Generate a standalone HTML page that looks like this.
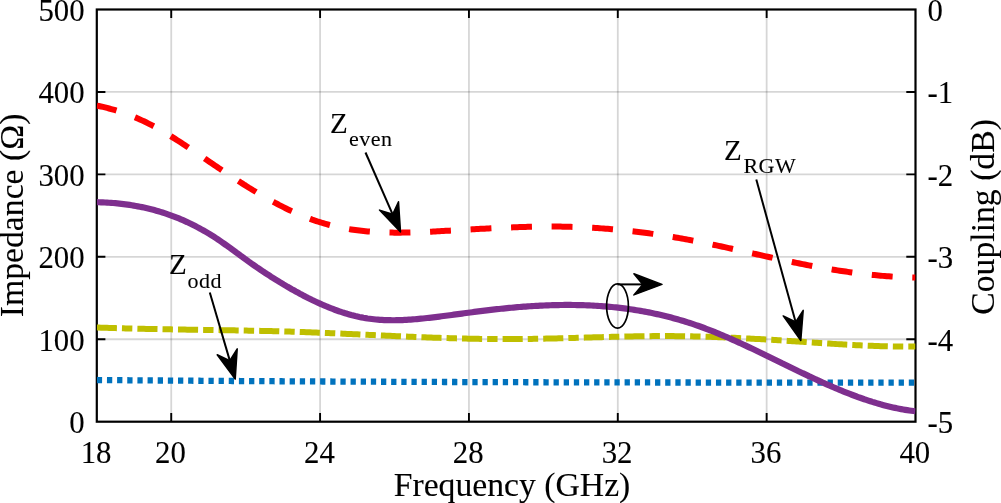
<!DOCTYPE html>
<html lang="en"><head><meta charset="utf-8"><title>Impedance and Coupling vs Frequency</title>
<style>html,body{margin:0;padding:0;background:#fff;}body{width:1001px;height:503px;overflow:hidden;}svg{display:block;}text{font-family:"Liberation Serif",serif;fill:#000;}text{stroke:#000;stroke-width:0.1px;}.tk{font-size:30.8px;}.lb{font-size:33.7px;}.an{font-size:29px;}.sb{font-size:22px;letter-spacing:0.5px;}</style></head><body>
<svg width="1001" height="503" viewBox="0 0 1001 503">
<rect width="1001" height="503" fill="#fff"/>
<path d="M171.23,9.5 V421.7 M320.08,9.5 V421.7 M468.94,9.5 V421.7 M617.79,9.5 V421.7 M766.65,9.5 V421.7" stroke="#000" stroke-opacity="0.16" stroke-width="1.8" fill="none"/>
<path d="M96.8,339.26 H915.5 M96.8,256.82 H915.5 M96.8,174.38 H915.5 M96.8,91.94 H915.5" stroke="#000" stroke-opacity="0.16" stroke-width="1.8" fill="none"/>
<path d="M171.23,421.7 v-8.6 M171.23,9.5 v8.6 M320.08,421.7 v-8.6 M320.08,9.5 v8.6 M468.94,421.7 v-8.6 M468.94,9.5 v8.6 M617.79,421.7 v-8.6 M617.79,9.5 v8.6 M766.65,421.7 v-8.6 M766.65,9.5 v8.6 M96.8,339.26 h8.6 M915.5,339.26 h-9.2 M96.8,256.82 h8.6 M915.5,256.82 h-9.2 M96.8,174.38 h8.6 M915.5,174.38 h-9.2 M96.8,91.94 h8.6 M915.5,91.94 h-9.2" stroke="#000" stroke-width="1.9" fill="none"/>
<rect x="96.8" y="9.5" width="818.70" height="412.20" fill="none" stroke="#000" stroke-width="2.2"/>
<clipPath id="plotclip"><rect x="96.8" y="9.5" width="818.70" height="412.20"/></clipPath><g clip-path="url(#plotclip)">
<path d="M96.8,327.49 L98.9,327.57 L100.9,327.64 L103.0,327.72 L105.0,327.79 L107.1,327.85 L109.1,327.92 L111.2,327.99 L113.2,328.05 L115.3,328.11 L117.3,328.17 L119.4,328.23 L121.4,328.29 L123.5,328.35 L125.5,328.40 L127.6,328.46 L129.6,328.51 L131.7,328.56 L133.7,328.61 L135.8,328.66 L137.8,328.71 L139.9,328.76 L141.9,328.81 L144.0,328.85 L146.0,328.90 L148.1,328.94 L150.1,328.98 L152.2,329.02 L154.3,329.06 L156.3,329.10 L158.4,329.14 L160.4,329.18 L162.5,329.22 L164.5,329.26 L166.6,329.29 L168.6,329.33 L170.7,329.36 L172.7,329.40 L174.8,329.43 L176.8,329.47 L178.9,329.50 L180.9,329.53 L183.0,329.57 L185.0,329.60 L187.1,329.63 L189.1,329.66 L191.2,329.69 L193.2,329.72 L195.3,329.76 L197.3,329.79 L199.4,329.82 L201.4,329.85 L203.5,329.88 L205.5,329.91 L207.6,329.94 L209.7,329.97 L211.7,330.00 L213.8,330.04 L215.8,330.07 L217.9,330.10 L219.9,330.13 L222.0,330.16 L224.0,330.20 L226.1,330.23 L228.1,330.26 L230.2,330.30 L232.2,330.33 L234.3,330.37 L236.3,330.40 L238.4,330.44 L240.4,330.47 L242.5,330.51 L244.5,330.55 L246.6,330.59 L248.6,330.63 L250.7,330.67 L252.7,330.71 L254.8,330.75 L256.8,330.79 L258.9,330.84 L261.0,330.88 L263.0,330.93 L265.1,330.97 L267.1,331.02 L269.2,331.07 L271.2,331.12 L273.3,331.17 L275.3,331.22 L277.4,331.27 L279.4,331.33 L281.5,331.39 L283.5,331.44 L285.6,331.50 L287.6,331.56 L289.7,331.62 L291.7,331.68 L293.8,331.75 L295.8,331.81 L297.9,331.88 L299.9,331.95 L302.0,332.02 L304.0,332.09 L306.1,332.17 L308.1,332.24 L310.2,332.32 L312.2,332.40 L314.3,332.48 L316.4,332.56 L318.4,332.64 L320.5,332.72 L322.5,332.81 L324.6,332.89 L326.6,332.98 L328.7,333.06 L330.7,333.15 L332.8,333.24 L334.8,333.33 L336.9,333.42 L338.9,333.51 L341.0,333.60 L343.0,333.70 L345.1,333.79 L347.1,333.88 L349.2,333.98 L351.2,334.07 L353.3,334.17 L355.3,334.26 L357.4,334.36 L359.4,334.45 L361.5,334.55 L363.5,334.64 L365.6,334.74 L367.6,334.83 L369.7,334.93 L371.8,335.02 L373.8,335.12 L375.9,335.22 L377.9,335.31 L380.0,335.40 L382.0,335.50 L384.1,335.59 L386.1,335.69 L388.2,335.78 L390.2,335.87 L392.3,335.96 L394.3,336.06 L396.4,336.15 L398.4,336.24 L400.5,336.33 L402.5,336.42 L404.6,336.50 L406.6,336.59 L408.7,336.68 L410.7,336.76 L412.8,336.85 L414.8,336.93 L416.9,337.02 L418.9,337.10 L421.0,337.18 L423.0,337.26 L425.1,337.34 L427.2,337.41 L429.2,337.49 L431.3,337.57 L433.3,337.64 L435.4,337.71 L437.4,337.78 L439.5,337.85 L441.5,337.92 L443.6,337.99 L445.6,338.05 L447.7,338.12 L449.7,338.18 L451.8,338.24 L453.8,338.30 L455.9,338.35 L457.9,338.41 L460.0,338.46 L462.0,338.51 L464.1,338.56 L466.1,338.61 L468.2,338.65 L470.2,338.70 L472.3,338.74 L474.3,338.78 L476.4,338.81 L478.4,338.85 L480.5,338.88 L482.6,338.91 L484.6,338.94 L486.7,338.97 L488.7,338.99 L490.8,339.01 L492.8,339.03 L494.9,339.05 L496.9,339.06 L499.0,339.07 L501.0,339.08 L503.1,339.08 L505.1,339.09 L507.2,339.09 L509.2,339.09 L511.3,339.08 L513.3,339.07 L515.4,339.06 L517.4,339.05 L519.5,339.03 L521.5,339.01 L523.6,338.99 L525.6,338.97 L527.7,338.94 L529.7,338.91 L531.8,338.88 L533.9,338.85 L535.9,338.82 L538.0,338.78 L540.0,338.74 L542.1,338.70 L544.1,338.66 L546.2,338.62 L548.2,338.57 L550.3,338.52 L552.3,338.48 L554.4,338.43 L556.4,338.38 L558.5,338.33 L560.5,338.27 L562.6,338.22 L564.6,338.16 L566.7,338.11 L568.7,338.05 L570.8,338.00 L572.8,337.94 L574.9,337.88 L576.9,337.82 L579.0,337.77 L581.0,337.71 L583.1,337.65 L585.1,337.59 L587.2,337.53 L589.3,337.47 L591.3,337.41 L593.4,337.36 L595.4,337.30 L597.5,337.24 L599.5,337.18 L601.6,337.13 L603.6,337.07 L605.7,337.01 L607.7,336.96 L609.8,336.91 L611.8,336.85 L613.9,336.80 L615.9,336.75 L618.0,336.70 L620.0,336.65 L622.1,336.61 L624.1,336.56 L626.2,336.52 L628.2,336.48 L630.3,336.44 L632.3,336.40 L634.4,336.36 L636.4,336.32 L638.5,336.29 L640.5,336.26 L642.6,336.23 L644.7,336.20 L646.7,336.18 L648.8,336.16 L650.8,336.14 L652.9,336.12 L654.9,336.11 L657.0,336.10 L659.0,336.09 L661.1,336.08 L663.1,336.08 L665.2,336.08 L667.2,336.08 L669.3,336.09 L671.3,336.10 L673.4,336.11 L675.4,336.13 L677.5,336.15 L679.5,336.17 L681.6,336.19 L683.6,336.22 L685.7,336.25 L687.7,336.29 L689.8,336.33 L691.8,336.37 L693.9,336.41 L695.9,336.46 L698.0,336.51 L700.1,336.56 L702.1,336.61 L704.2,336.67 L706.2,336.73 L708.3,336.79 L710.3,336.86 L712.4,336.93 L714.4,337.00 L716.5,337.07 L718.5,337.15 L720.6,337.22 L722.6,337.30 L724.7,337.39 L726.7,337.47 L728.8,337.56 L730.8,337.65 L732.9,337.74 L734.9,337.83 L737.0,337.93 L739.0,338.03 L741.1,338.13 L743.1,338.23 L745.2,338.33 L747.2,338.44 L749.3,338.55 L751.3,338.66 L753.4,338.77 L755.5,338.88 L757.5,338.99 L759.6,339.11 L761.6,339.23 L763.7,339.35 L765.7,339.47 L767.8,339.59 L769.8,339.72 L771.9,339.84 L773.9,339.97 L776.0,340.10 L778.0,340.23 L780.1,340.36 L782.1,340.49 L784.2,340.63 L786.2,340.76 L788.3,340.90 L790.3,341.03 L792.4,341.17 L794.4,341.30 L796.5,341.44 L798.5,341.58 L800.6,341.72 L802.6,341.86 L804.7,341.99 L806.8,342.13 L808.8,342.27 L810.9,342.41 L812.9,342.54 L815.0,342.68 L817.0,342.82 L819.1,342.95 L821.1,343.09 L823.2,343.22 L825.2,343.35 L827.3,343.48 L829.3,343.61 L831.4,343.74 L833.4,343.87 L835.5,344.00 L837.5,344.12 L839.6,344.24 L841.6,344.36 L843.7,344.48 L845.7,344.60 L847.8,344.71 L849.8,344.82 L851.9,344.93 L853.9,345.04 L856.0,345.14 L858.0,345.25 L860.1,345.35 L862.2,345.44 L864.2,345.53 L866.3,345.62 L868.3,345.71 L870.4,345.79 L872.4,345.87 L874.5,345.95 L876.5,346.02 L878.6,346.09 L880.6,346.16 L882.7,346.22 L884.7,346.28 L886.8,346.33 L888.8,346.38 L890.9,346.42 L892.9,346.46 L895.0,346.50 L897.0,346.53 L899.1,346.56 L901.1,346.58 L903.2,346.59 L905.2,346.60 L907.3,346.61 L909.3,346.61 L911.4,346.61 L913.4,346.59 L915.5,346.58" stroke="#bfbf00" stroke-width="6" fill="none" stroke-dasharray="20.12 5.03 10.4 5.05"/>
<path d="M96.8,380.02 L98.9,380.03 L100.9,380.05 L103.0,380.07 L105.0,380.08 L107.1,380.10 L109.1,380.12 L111.2,380.13 L113.2,380.15 L115.3,380.16 L117.3,380.18 L119.4,380.20 L121.4,380.21 L123.5,380.23 L125.5,380.24 L127.6,380.26 L129.6,380.28 L131.7,380.29 L133.7,380.31 L135.8,380.32 L137.8,380.34 L139.9,380.35 L141.9,380.37 L144.0,380.38 L146.0,380.40 L148.1,380.42 L150.1,380.43 L152.2,380.45 L154.3,380.46 L156.3,380.48 L158.4,380.49 L160.4,380.50 L162.5,380.52 L164.5,380.53 L166.6,380.55 L168.6,380.56 L170.7,380.58 L172.7,380.59 L174.8,380.61 L176.8,380.62 L178.9,380.64 L180.9,380.65 L183.0,380.66 L185.0,380.68 L187.1,380.69 L189.1,380.71 L191.2,380.72 L193.2,380.73 L195.3,380.75 L197.3,380.76 L199.4,380.77 L201.4,380.79 L203.5,380.80 L205.5,380.81 L207.6,380.83 L209.7,380.84 L211.7,380.85 L213.8,380.87 L215.8,380.88 L217.9,380.89 L219.9,380.91 L222.0,380.92 L224.0,380.93 L226.1,380.94 L228.1,380.96 L230.2,380.97 L232.2,380.98 L234.3,381.00 L236.3,381.01 L238.4,381.02 L240.4,381.03 L242.5,381.04 L244.5,381.06 L246.6,381.07 L248.6,381.08 L250.7,381.09 L252.7,381.11 L254.8,381.12 L256.8,381.13 L258.9,381.14 L261.0,381.15 L263.0,381.16 L265.1,381.18 L267.1,381.19 L269.2,381.20 L271.2,381.21 L273.3,381.22 L275.3,381.23 L277.4,381.24 L279.4,381.26 L281.5,381.27 L283.5,381.28 L285.6,381.29 L287.6,381.30 L289.7,381.31 L291.7,381.32 L293.8,381.33 L295.8,381.34 L297.9,381.35 L299.9,381.37 L302.0,381.38 L304.0,381.39 L306.1,381.40 L308.1,381.41 L310.2,381.42 L312.2,381.43 L314.3,381.44 L316.4,381.45 L318.4,381.46 L320.5,381.47 L322.5,381.48 L324.6,381.49 L326.6,381.50 L328.7,381.51 L330.7,381.52 L332.8,381.53 L334.8,381.54 L336.9,381.55 L338.9,381.56 L341.0,381.57 L343.0,381.58 L345.1,381.59 L347.1,381.60 L349.2,381.61 L351.2,381.61 L353.3,381.62 L355.3,381.63 L357.4,381.64 L359.4,381.65 L361.5,381.66 L363.5,381.67 L365.6,381.68 L367.6,381.69 L369.7,381.70 L371.8,381.70 L373.8,381.71 L375.9,381.72 L377.9,381.73 L380.0,381.74 L382.0,381.75 L384.1,381.76 L386.1,381.76 L388.2,381.77 L390.2,381.78 L392.3,381.79 L394.3,381.80 L396.4,381.81 L398.4,381.81 L400.5,381.82 L402.5,381.83 L404.6,381.84 L406.6,381.85 L408.7,381.85 L410.7,381.86 L412.8,381.87 L414.8,381.88 L416.9,381.89 L418.9,381.89 L421.0,381.90 L423.0,381.91 L425.1,381.92 L427.2,381.92 L429.2,381.93 L431.3,381.94 L433.3,381.95 L435.4,381.95 L437.4,381.96 L439.5,381.97 L441.5,381.97 L443.6,381.98 L445.6,381.99 L447.7,381.99 L449.7,382.00 L451.8,382.01 L453.8,382.02 L455.9,382.02 L457.9,382.03 L460.0,382.04 L462.0,382.04 L464.1,382.05 L466.1,382.06 L468.2,382.06 L470.2,382.07 L472.3,382.07 L474.3,382.08 L476.4,382.09 L478.4,382.09 L480.5,382.10 L482.6,382.11 L484.6,382.11 L486.7,382.12 L488.7,382.12 L490.8,382.13 L492.8,382.14 L494.9,382.14 L496.9,382.15 L499.0,382.15 L501.0,382.16 L503.1,382.17 L505.1,382.17 L507.2,382.18 L509.2,382.18 L511.3,382.19 L513.3,382.19 L515.4,382.20 L517.4,382.20 L519.5,382.21 L521.5,382.22 L523.6,382.22 L525.6,382.23 L527.7,382.23 L529.7,382.24 L531.8,382.24 L533.9,382.25 L535.9,382.25 L538.0,382.26 L540.0,382.26 L542.1,382.27 L544.1,382.27 L546.2,382.28 L548.2,382.28 L550.3,382.29 L552.3,382.29 L554.4,382.30 L556.4,382.30 L558.5,382.30 L560.5,382.31 L562.6,382.31 L564.6,382.32 L566.7,382.32 L568.7,382.33 L570.8,382.33 L572.8,382.34 L574.9,382.34 L576.9,382.34 L579.0,382.35 L581.0,382.35 L583.1,382.36 L585.1,382.36 L587.2,382.36 L589.3,382.37 L591.3,382.37 L593.4,382.38 L595.4,382.38 L597.5,382.38 L599.5,382.39 L601.6,382.39 L603.6,382.40 L605.7,382.40 L607.7,382.40 L609.8,382.41 L611.8,382.41 L613.9,382.41 L615.9,382.42 L618.0,382.42 L620.0,382.42 L622.1,382.43 L624.1,382.43 L626.2,382.43 L628.2,382.44 L630.3,382.44 L632.3,382.44 L634.4,382.45 L636.4,382.45 L638.5,382.45 L640.5,382.46 L642.6,382.46 L644.7,382.46 L646.7,382.47 L648.8,382.47 L650.8,382.47 L652.9,382.47 L654.9,382.48 L657.0,382.48 L659.0,382.48 L661.1,382.49 L663.1,382.49 L665.2,382.49 L667.2,382.49 L669.3,382.50 L671.3,382.50 L673.4,382.50 L675.4,382.50 L677.5,382.51 L679.5,382.51 L681.6,382.51 L683.6,382.51 L685.7,382.52 L687.7,382.52 L689.8,382.52 L691.8,382.52 L693.9,382.53 L695.9,382.53 L698.0,382.53 L700.1,382.53 L702.1,382.53 L704.2,382.54 L706.2,382.54 L708.3,382.54 L710.3,382.54 L712.4,382.54 L714.4,382.55 L716.5,382.55 L718.5,382.55 L720.6,382.55 L722.6,382.55 L724.7,382.55 L726.7,382.56 L728.8,382.56 L730.8,382.56 L732.9,382.56 L734.9,382.56 L737.0,382.56 L739.0,382.57 L741.1,382.57 L743.1,382.57 L745.2,382.57 L747.2,382.57 L749.3,382.57 L751.3,382.57 L753.4,382.58 L755.5,382.58 L757.5,382.58 L759.6,382.58 L761.6,382.58 L763.7,382.58 L765.7,382.58 L767.8,382.58 L769.8,382.59 L771.9,382.59 L773.9,382.59 L776.0,382.59 L778.0,382.59 L780.1,382.59 L782.1,382.59 L784.2,382.59 L786.2,382.59 L788.3,382.59 L790.3,382.60 L792.4,382.60 L794.4,382.60 L796.5,382.60 L798.5,382.60 L800.6,382.60 L802.6,382.60 L804.7,382.60 L806.8,382.60 L808.8,382.60 L810.9,382.60 L812.9,382.60 L815.0,382.60 L817.0,382.60 L819.1,382.60 L821.1,382.60 L823.2,382.61 L825.2,382.61 L827.3,382.61 L829.3,382.61 L831.4,382.61 L833.4,382.61 L835.5,382.61 L837.5,382.61 L839.6,382.61 L841.6,382.61 L843.7,382.61 L845.7,382.61 L847.8,382.61 L849.8,382.61 L851.9,382.61 L853.9,382.61 L856.0,382.61 L858.0,382.61 L860.1,382.61 L862.2,382.61 L864.2,382.61 L866.3,382.61 L868.3,382.61 L870.4,382.61 L872.4,382.61 L874.5,382.61 L876.5,382.61 L878.6,382.61 L880.6,382.61 L882.7,382.61 L884.7,382.61 L886.8,382.61 L888.8,382.61 L890.9,382.61 L892.9,382.61 L895.0,382.61 L897.0,382.61 L899.1,382.61 L901.1,382.60 L903.2,382.60 L905.2,382.60 L907.3,382.60 L909.3,382.60 L911.4,382.60 L913.4,382.60 L915.5,382.60" stroke="#0072bd" stroke-width="6.3" fill="none" stroke-dasharray="5.3 4.85"/>
<path d="M96.8,105.58 L98.9,106.01 L100.9,106.47 L103.0,106.94 L105.0,107.43 L107.1,107.95 L109.1,108.49 L111.2,109.05 L113.2,109.63 L115.3,110.23 L117.3,110.86 L119.4,111.52 L121.4,112.19 L123.5,112.89 L125.5,113.62 L127.6,114.37 L129.6,115.15 L131.7,115.95 L133.7,116.78 L135.8,117.63 L137.8,118.51 L139.9,119.42 L141.9,120.36 L144.0,121.32 L146.0,122.31 L148.1,123.33 L150.1,124.38 L152.2,125.45 L154.3,126.54 L156.3,127.66 L158.4,128.80 L160.4,129.97 L162.5,131.15 L164.5,132.35 L166.6,133.58 L168.6,134.82 L170.7,136.07 L172.7,137.35 L174.8,138.64 L176.8,139.94 L178.9,141.25 L180.9,142.58 L183.0,143.92 L185.0,145.27 L187.1,146.63 L189.1,148.00 L191.2,149.37 L193.2,150.75 L195.3,152.14 L197.3,153.53 L199.4,154.92 L201.4,156.32 L203.5,157.72 L205.5,159.12 L207.6,160.52 L209.7,161.92 L211.7,163.32 L213.8,164.71 L215.8,166.10 L217.9,167.48 L219.9,168.87 L222.0,170.24 L224.0,171.61 L226.1,172.98 L228.1,174.34 L230.2,175.69 L232.2,177.03 L234.3,178.37 L236.3,179.70 L238.4,181.02 L240.4,182.33 L242.5,183.64 L244.5,184.93 L246.6,186.21 L248.6,187.49 L250.7,188.75 L252.7,190.00 L254.8,191.24 L256.8,192.47 L258.9,193.69 L261.0,194.89 L263.0,196.08 L265.1,197.25 L267.1,198.42 L269.2,199.56 L271.2,200.70 L273.3,201.81 L275.3,202.92 L277.4,204.00 L279.4,205.07 L281.5,206.12 L283.5,207.16 L285.6,208.18 L287.6,209.18 L289.7,210.16 L291.7,211.12 L293.8,212.06 L295.8,212.98 L297.9,213.89 L299.9,214.77 L302.0,215.63 L304.0,216.47 L306.1,217.29 L308.1,218.08 L310.2,218.86 L312.2,219.61 L314.3,220.33 L316.4,221.04 L318.4,221.72 L320.5,222.37 L322.5,223.00 L324.6,223.61 L326.6,224.19 L328.7,224.75 L330.7,225.28 L332.8,225.79 L334.8,226.28 L336.9,226.75 L338.9,227.20 L341.0,227.63 L343.0,228.03 L345.1,228.42 L347.1,228.78 L349.2,229.13 L351.2,229.45 L353.3,229.76 L355.3,230.05 L357.4,230.32 L359.4,230.58 L361.5,230.82 L363.5,231.04 L365.6,231.24 L367.6,231.43 L369.7,231.60 L371.8,231.76 L373.8,231.91 L375.9,232.04 L377.9,232.15 L380.0,232.25 L382.0,232.34 L384.1,232.42 L386.1,232.48 L388.2,232.54 L390.2,232.58 L392.3,232.61 L394.3,232.63 L396.4,232.64 L398.4,232.64 L400.5,232.63 L402.5,232.61 L404.6,232.58 L406.6,232.55 L408.7,232.51 L410.7,232.46 L412.8,232.40 L414.8,232.33 L416.9,232.26 L418.9,232.19 L421.0,232.11 L423.0,232.02 L425.1,231.93 L427.2,231.84 L429.2,231.74 L431.3,231.63 L433.3,231.53 L435.4,231.42 L437.4,231.31 L439.5,231.20 L441.5,231.09 L443.6,230.97 L445.6,230.86 L447.7,230.74 L449.7,230.63 L451.8,230.51 L453.8,230.39 L455.9,230.27 L457.9,230.16 L460.0,230.04 L462.0,229.92 L464.1,229.80 L466.1,229.68 L468.2,229.56 L470.2,229.45 L472.3,229.33 L474.3,229.21 L476.4,229.10 L478.4,228.98 L480.5,228.87 L482.6,228.76 L484.6,228.65 L486.7,228.54 L488.7,228.43 L490.8,228.32 L492.8,228.22 L494.9,228.12 L496.9,228.02 L499.0,227.92 L501.0,227.82 L503.1,227.73 L505.1,227.64 L507.2,227.55 L509.2,227.46 L511.3,227.38 L513.3,227.30 L515.4,227.23 L517.4,227.15 L519.5,227.08 L521.5,227.02 L523.6,226.96 L525.6,226.90 L527.7,226.84 L529.7,226.79 L531.8,226.75 L533.9,226.71 L535.9,226.67 L538.0,226.64 L540.0,226.61 L542.1,226.58 L544.1,226.56 L546.2,226.55 L548.2,226.54 L550.3,226.54 L552.3,226.54 L554.4,226.55 L556.4,226.56 L558.5,226.58 L560.5,226.61 L562.6,226.64 L564.6,226.68 L566.7,226.72 L568.7,226.77 L570.8,226.83 L572.8,226.89 L574.9,226.95 L576.9,227.03 L579.0,227.11 L581.0,227.19 L583.1,227.29 L585.1,227.38 L587.2,227.49 L589.3,227.60 L591.3,227.71 L593.4,227.83 L595.4,227.96 L597.5,228.09 L599.5,228.23 L601.6,228.38 L603.6,228.53 L605.7,228.69 L607.7,228.85 L609.8,229.02 L611.8,229.19 L613.9,229.37 L615.9,229.56 L618.0,229.75 L620.0,229.95 L622.1,230.15 L624.1,230.36 L626.2,230.58 L628.2,230.80 L630.3,231.02 L632.3,231.26 L634.4,231.49 L636.4,231.74 L638.5,231.99 L640.5,232.24 L642.6,232.50 L644.7,232.77 L646.7,233.04 L648.8,233.32 L650.8,233.60 L652.9,233.89 L654.9,234.18 L657.0,234.48 L659.0,234.78 L661.1,235.09 L663.1,235.41 L665.2,235.73 L667.2,236.06 L669.3,236.39 L671.3,236.73 L673.4,237.07 L675.4,237.42 L677.5,237.78 L679.5,238.14 L681.6,238.50 L683.6,238.87 L685.7,239.25 L687.7,239.63 L689.8,240.01 L691.8,240.40 L693.9,240.80 L695.9,241.20 L698.0,241.60 L700.1,242.01 L702.1,242.42 L704.2,242.84 L706.2,243.26 L708.3,243.68 L710.3,244.11 L712.4,244.54 L714.4,244.97 L716.5,245.41 L718.5,245.85 L720.6,246.29 L722.6,246.73 L724.7,247.18 L726.7,247.63 L728.8,248.08 L730.8,248.53 L732.9,248.98 L734.9,249.44 L737.0,249.89 L739.0,250.35 L741.1,250.81 L743.1,251.27 L745.2,251.73 L747.2,252.19 L749.3,252.64 L751.3,253.10 L753.4,253.56 L755.5,254.02 L757.5,254.48 L759.6,254.94 L761.6,255.40 L763.7,255.85 L765.7,256.31 L767.8,256.76 L769.8,257.22 L771.9,257.67 L773.9,258.12 L776.0,258.57 L778.0,259.01 L780.1,259.45 L782.1,259.90 L784.2,260.33 L786.2,260.77 L788.3,261.20 L790.3,261.63 L792.4,262.06 L794.4,262.48 L796.5,262.90 L798.5,263.31 L800.6,263.73 L802.6,264.13 L804.7,264.54 L806.8,264.94 L808.8,265.33 L810.9,265.72 L812.9,266.11 L815.0,266.49 L817.0,266.86 L819.1,267.24 L821.1,267.60 L823.2,267.96 L825.2,268.32 L827.3,268.67 L829.3,269.02 L831.4,269.36 L833.4,269.69 L835.5,270.02 L837.5,270.35 L839.6,270.66 L841.6,270.98 L843.7,271.28 L845.7,271.58 L847.8,271.88 L849.8,272.17 L851.9,272.45 L853.9,272.72 L856.0,272.99 L858.0,273.25 L860.1,273.51 L862.2,273.76 L864.2,274.00 L866.3,274.24 L868.3,274.47 L870.4,274.69 L872.4,274.90 L874.5,275.11 L876.5,275.31 L878.6,275.50 L880.6,275.69 L882.7,275.87 L884.7,276.04 L886.8,276.20 L888.8,276.36 L890.9,276.50 L892.9,276.64 L895.0,276.77 L897.0,276.89 L899.1,277.01 L901.1,277.11 L903.2,277.21 L905.2,277.30 L907.3,277.38 L909.3,277.45 L911.4,277.52 L913.4,277.57 L915.5,277.61" stroke="#ff0000" stroke-width="6" fill="none" stroke-dasharray="20.9 19.66" stroke-dashoffset="0.6"/>
<path d="M96.8,202.20 L98.9,202.25 L100.9,202.31 L103.0,202.39 L105.0,202.49 L107.1,202.60 L109.1,202.73 L111.2,202.87 L113.2,203.03 L115.3,203.21 L117.3,203.40 L119.4,203.61 L121.4,203.84 L123.5,204.09 L125.5,204.35 L127.6,204.63 L129.6,204.93 L131.7,205.25 L133.7,205.59 L135.8,205.95 L137.8,206.33 L139.9,206.73 L141.9,207.15 L144.0,207.59 L146.0,208.05 L148.1,208.53 L150.1,209.03 L152.2,209.56 L154.3,210.10 L156.3,210.67 L158.4,211.26 L160.4,211.88 L162.5,212.51 L164.5,213.17 L166.6,213.86 L168.6,214.56 L170.7,215.30 L172.7,216.05 L174.8,216.83 L176.8,217.64 L178.9,218.47 L180.9,219.32 L183.0,220.21 L185.0,221.11 L187.1,222.05 L189.1,223.01 L191.2,223.99 L193.2,225.01 L195.3,226.05 L197.3,227.12 L199.4,228.22 L201.4,229.34 L203.5,230.50 L205.5,231.68 L207.6,232.89 L209.7,234.13 L211.7,235.40 L213.8,236.70 L215.8,238.03 L217.9,239.39 L219.9,240.78 L222.0,242.19 L224.0,243.63 L226.1,245.08 L228.1,246.55 L230.2,248.04 L232.2,249.53 L234.3,251.03 L236.3,252.54 L238.4,254.05 L240.4,255.56 L242.5,257.06 L244.5,258.56 L246.6,260.05 L248.6,261.52 L250.7,262.98 L252.7,264.43 L254.8,265.86 L256.8,267.28 L258.9,268.69 L261.0,270.08 L263.0,271.45 L265.1,272.81 L267.1,274.16 L269.2,275.49 L271.2,276.81 L273.3,278.11 L275.3,279.40 L277.4,280.67 L279.4,281.93 L281.5,283.18 L283.5,284.41 L285.6,285.62 L287.6,286.82 L289.7,288.01 L291.7,289.18 L293.8,290.33 L295.8,291.48 L297.9,292.60 L299.9,293.71 L302.0,294.81 L304.0,295.88 L306.1,296.94 L308.1,297.99 L310.2,299.01 L312.2,300.02 L314.3,301.01 L316.4,301.97 L318.4,302.92 L320.5,303.85 L322.5,304.75 L324.6,305.64 L326.6,306.50 L328.7,307.34 L330.7,308.16 L332.8,308.96 L334.8,309.73 L336.9,310.48 L338.9,311.20 L341.0,311.90 L343.0,312.57 L345.1,313.21 L347.1,313.83 L349.2,314.42 L351.2,314.99 L353.3,315.52 L355.3,316.03 L357.4,316.51 L359.4,316.96 L361.5,317.38 L363.5,317.77 L365.6,318.13 L367.6,318.46 L369.7,318.75 L371.8,319.02 L373.8,319.26 L375.9,319.47 L377.9,319.65 L380.0,319.81 L382.0,319.94 L384.1,320.04 L386.1,320.13 L388.2,320.19 L390.2,320.22 L392.3,320.24 L394.3,320.24 L396.4,320.21 L398.4,320.17 L400.5,320.11 L402.5,320.03 L404.6,319.94 L406.6,319.83 L408.7,319.70 L410.7,319.57 L412.8,319.41 L414.8,319.25 L416.9,319.07 L418.9,318.89 L421.0,318.69 L423.0,318.48 L425.1,318.26 L427.2,318.04 L429.2,317.80 L431.3,317.56 L433.3,317.32 L435.4,317.07 L437.4,316.81 L439.5,316.55 L441.5,316.29 L443.6,316.03 L445.6,315.76 L447.7,315.49 L449.7,315.22 L451.8,314.95 L453.8,314.67 L455.9,314.40 L457.9,314.12 L460.0,313.85 L462.0,313.57 L464.1,313.30 L466.1,313.02 L468.2,312.75 L470.2,312.48 L472.3,312.21 L474.3,311.94 L476.4,311.68 L478.4,311.41 L480.5,311.15 L482.6,310.89 L484.6,310.64 L486.7,310.39 L488.7,310.14 L490.8,309.90 L492.8,309.66 L494.9,309.43 L496.9,309.20 L499.0,308.98 L501.0,308.76 L503.1,308.55 L505.1,308.34 L507.2,308.13 L509.2,307.94 L511.3,307.74 L513.3,307.56 L515.4,307.38 L517.4,307.20 L519.5,307.03 L521.5,306.87 L523.6,306.71 L525.6,306.56 L527.7,306.41 L529.7,306.27 L531.8,306.14 L533.9,306.01 L535.9,305.89 L538.0,305.78 L540.0,305.67 L542.1,305.57 L544.1,305.48 L546.2,305.40 L548.2,305.32 L550.3,305.25 L552.3,305.19 L554.4,305.13 L556.4,305.08 L558.5,305.04 L560.5,305.01 L562.6,304.98 L564.6,304.97 L566.7,304.96 L568.7,304.96 L570.8,304.97 L572.8,304.98 L574.9,305.01 L576.9,305.04 L579.0,305.08 L581.0,305.13 L583.1,305.19 L585.1,305.26 L587.2,305.34 L589.3,305.43 L591.3,305.52 L593.4,305.63 L595.4,305.74 L597.5,305.87 L599.5,306.00 L601.6,306.15 L603.6,306.30 L605.7,306.46 L607.7,306.64 L609.8,306.82 L611.8,307.02 L613.9,307.22 L615.9,307.44 L618.0,307.66 L620.0,307.90 L622.1,308.15 L624.1,308.41 L626.2,308.68 L628.2,308.96 L630.3,309.25 L632.3,309.55 L634.4,309.87 L636.4,310.19 L638.5,310.53 L640.5,310.88 L642.6,311.24 L644.7,311.61 L646.7,312.00 L648.8,312.39 L650.8,312.80 L652.9,313.22 L654.9,313.66 L657.0,314.10 L659.0,314.56 L661.1,315.03 L663.1,315.51 L665.2,316.01 L667.2,316.52 L669.3,317.04 L671.3,317.58 L673.4,318.13 L675.4,318.69 L677.5,319.27 L679.5,319.86 L681.6,320.46 L683.6,321.08 L685.7,321.71 L687.7,322.35 L689.8,323.01 L691.8,323.68 L693.9,324.37 L695.9,325.07 L698.0,325.79 L700.1,326.52 L702.1,327.26 L704.2,328.02 L706.2,328.79 L708.3,329.57 L710.3,330.37 L712.4,331.17 L714.4,331.99 L716.5,332.82 L718.5,333.66 L720.6,334.51 L722.6,335.38 L724.7,336.25 L726.7,337.13 L728.8,338.02 L730.8,338.92 L732.9,339.82 L734.9,340.74 L737.0,341.66 L739.0,342.59 L741.1,343.53 L743.1,344.48 L745.2,345.43 L747.2,346.38 L749.3,347.34 L751.3,348.31 L753.4,349.28 L755.5,350.26 L757.5,351.24 L759.6,352.23 L761.6,353.21 L763.7,354.20 L765.7,355.20 L767.8,356.19 L769.8,357.19 L771.9,358.19 L773.9,359.19 L776.0,360.20 L778.0,361.20 L780.1,362.20 L782.1,363.21 L784.2,364.21 L786.2,365.21 L788.3,366.21 L790.3,367.21 L792.4,368.21 L794.4,369.20 L796.5,370.20 L798.5,371.19 L800.6,372.17 L802.6,373.16 L804.7,374.14 L806.8,375.11 L808.8,376.08 L810.9,377.04 L812.9,378.00 L815.0,378.96 L817.0,379.91 L819.1,380.85 L821.1,381.78 L823.2,382.71 L825.2,383.63 L827.3,384.54 L829.3,385.44 L831.4,386.34 L833.4,387.22 L835.5,388.10 L837.5,388.97 L839.6,389.82 L841.6,390.67 L843.7,391.51 L845.7,392.33 L847.8,393.15 L849.8,393.95 L851.9,394.74 L853.9,395.51 L856.0,396.28 L858.0,397.03 L860.1,397.77 L862.2,398.49 L864.2,399.20 L866.3,399.89 L868.3,400.57 L870.4,401.24 L872.4,401.89 L874.5,402.52 L876.5,403.13 L878.6,403.73 L880.6,404.32 L882.7,404.88 L884.7,405.43 L886.8,405.96 L888.8,406.47 L890.9,406.96 L892.9,407.43 L895.0,407.88 L897.0,408.32 L899.1,408.73 L901.1,409.12 L903.2,409.49 L905.2,409.84 L907.3,410.17 L909.3,410.47 L911.4,410.76 L913.4,411.02 L915.5,411.26" stroke="#7e2f8e" stroke-width="6.2" fill="none"/>
</g>
<text class="tk" x="96.1" y="463.0" text-anchor="middle">18</text>
<text class="tk" x="170.5" y="463.0" text-anchor="middle">20</text>
<text class="tk" x="319.4" y="463.0" text-anchor="middle">24</text>
<text class="tk" x="468.2" y="463.0" text-anchor="middle">28</text>
<text class="tk" x="617.1" y="463.0" text-anchor="middle">32</text>
<text class="tk" x="765.9" y="463.0" text-anchor="middle">36</text>
<text class="tk" x="914.8" y="463.0" text-anchor="middle">40</text>
<text class="tk" x="84.6" y="433.1" text-anchor="end">0</text>
<text class="tk" x="84.6" y="350.7" text-anchor="end">100</text>
<text class="tk" x="84.6" y="268.2" text-anchor="end">200</text>
<text class="tk" x="84.6" y="185.8" text-anchor="end">300</text>
<text class="tk" x="84.6" y="103.3" text-anchor="end">400</text>
<text class="tk" x="84.6" y="20.9" text-anchor="end">500</text>
<text class="tk" x="927.4" y="103.3">-1</text>
<text class="tk" x="927.4" y="185.8">-2</text>
<text class="tk" x="927.4" y="268.2">-3</text>
<text class="tk" x="927.4" y="350.7">-4</text>
<text class="tk" x="927.4" y="433.1">-5</text>
<text class="tk" x="927.4" y="20.8">0</text>
<text class="lb" x="512" y="495.6" text-anchor="middle">Frequency (GHz)</text>
<text class="lb" transform="translate(22.9,215.4) rotate(-90)" text-anchor="middle">Impedance (Ω)</text>
<text class="lb" transform="translate(993.7,216.9) rotate(-90)" text-anchor="middle">Coupling (dB)</text>
<text class="an" x="329.9" y="133.0">Z</text><text class="sb" x="349.0" y="146.4">even</text>
<text class="an" x="168.9" y="274.2">Z</text><text class="sb" x="187.5" y="287.8">odd</text>
<text class="an" x="724.0" y="160.0">Z</text><text class="sb" x="743.4" y="173.4">RGW</text>
<line x1="365.5" y1="152.5" x2="393.1" y2="215.3" stroke="#000" stroke-width="2.0"/><polygon points="400.5,231.9 379.5,210.1 392.7,214.3 398.5,201.7" fill="#000" stroke="#000" stroke-width="1.5" stroke-linejoin="round"/>
<line x1="209.8" y1="292.5" x2="230.1" y2="361.6" stroke="#000" stroke-width="2.0"/><polygon points="235.2,379.1 217.2,354.8 229.8,360.7 237.2,348.9" fill="#000" stroke="#000" stroke-width="1.5" stroke-linejoin="round"/>
<line x1="756.3" y1="179.5" x2="795.9" y2="323.0" stroke="#000" stroke-width="2.0"/><polygon points="800.8,340.5 783.2,315.9 795.7,322.0 803.2,310.4" fill="#000" stroke="#000" stroke-width="1.5" stroke-linejoin="round"/>
<ellipse cx="617.5" cy="306" rx="10.9" ry="22.1" fill="none" stroke="#000" stroke-width="1.7"/>
<line x1="617.5" y1="284.4" x2="643.8" y2="284.4" stroke="#000" stroke-width="2.0"/><polygon points="662.0,284.4 633.9,294.9 642.8,284.4 633.9,273.8" fill="#000" stroke="#000" stroke-width="1.5" stroke-linejoin="round"/>
</svg></body></html>
